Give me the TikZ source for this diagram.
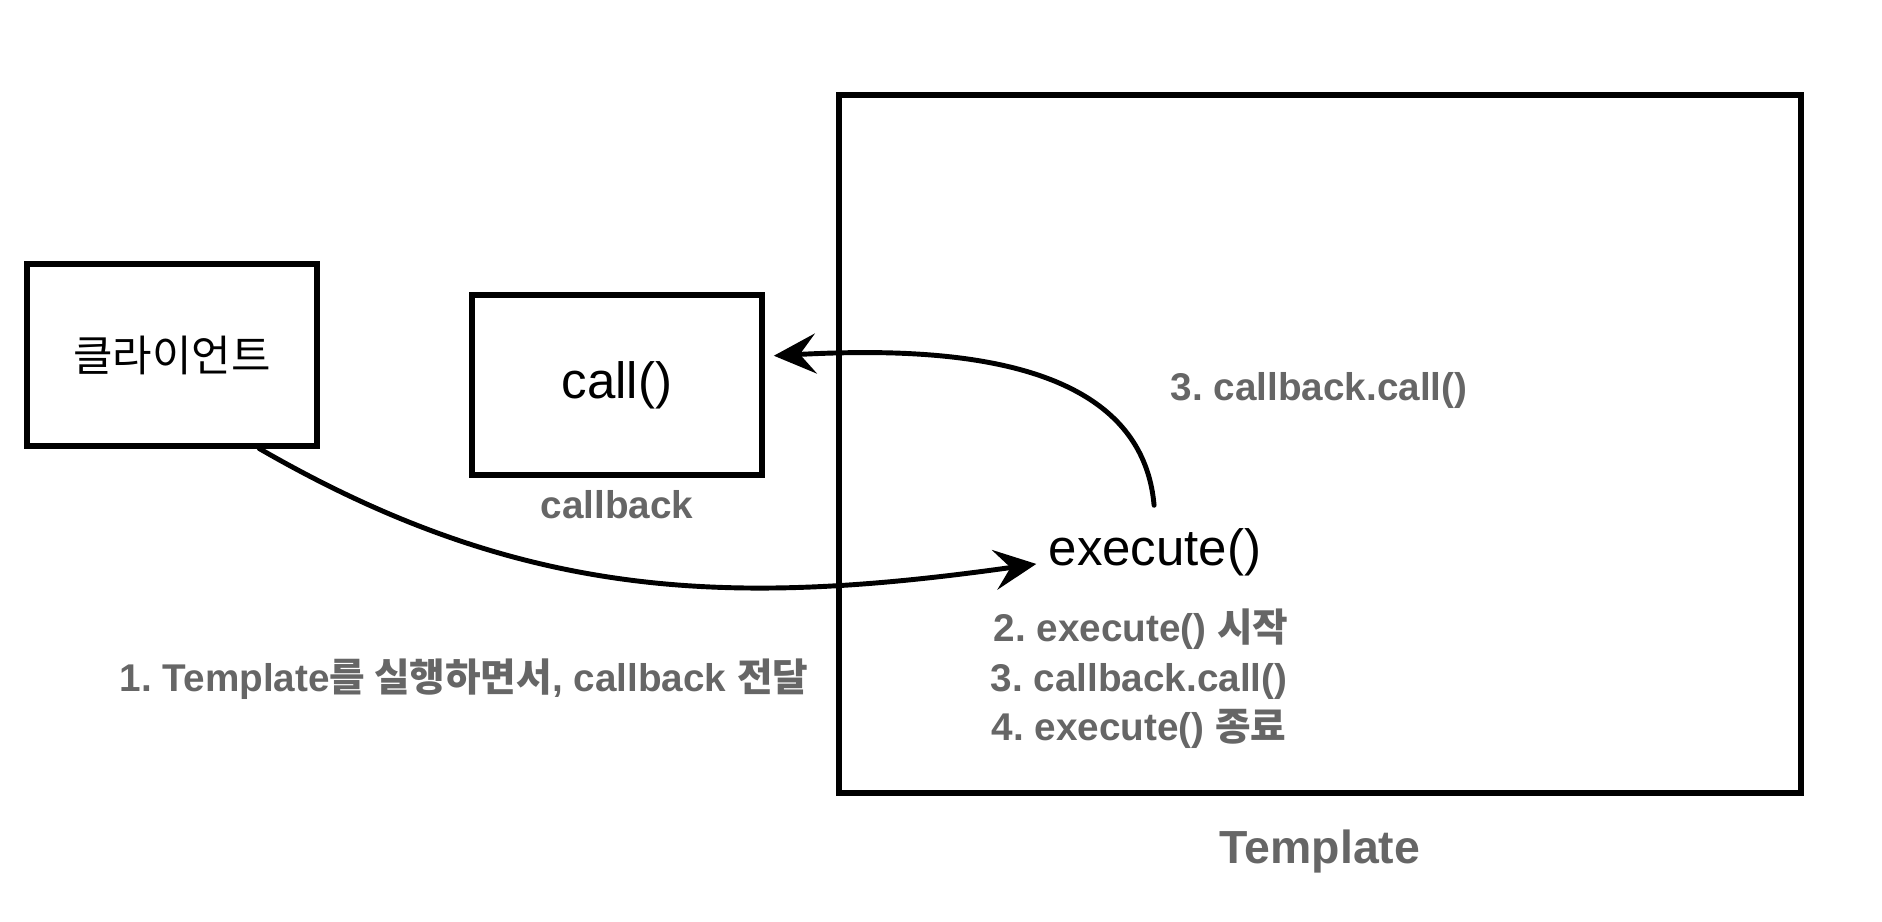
\documentclass[tikz,border=0pt]{standalone}
\usepackage{fontspec}
\setmainfont{Liberation Sans}
\newfontfamily\kr{Noto Sans CJK KR}
\usetikzlibrary{arrows.meta}
\definecolor{notegray}{HTML}{666666}
\frenchspacing

\begin{document}
\begin{tikzpicture}[
  x=0.01cm, y=0.01cm,
  box/.style={
      rectangle,
      draw,
      line width=1.7pt,
      inner sep=0pt,
      text centered,
      fill=white
  },
  bigtext/.style={
      font=\fontsize{14.5}{17}\selectfont
  },
  graytext/.style={
      text=notegray,
      inner sep=0pt,
      font=\fontsize{11}{13}\selectfont\bfseries
  },
  arrow/.style={
      -{Stealth[length=0.42cm,width=0.4cm,inset=0.16cm]},
      line width=1.4pt,
      line cap=round
  }
]

\useasboundingbox (0,0) rectangle (1882,922);

% ==================================================
% Client
% ==================================================

\node[box,
      minimum width=2.9cm,
      minimum height=1.81cm]
      (client) at (172,567)
      {\kr\fontsize{12.2}{14}\selectfont 클라이언트};

% ==================================================
% Callback
% ==================================================

\node[box, bigtext,
      minimum width=2.9cm,
      minimum height=1.8cm]
      (callback) at (617,537)
      {call()};

\node[graytext] (cbLabel) at (617,417)
      {callback};

% ==================================================
% Template
% ==================================================

\node[box,
      minimum width=9.61cm,
      minimum height=6.98cm]
      (template) at (1320,478)
      {};

\node[graytext,
      font=\fontsize{13.2}{15}\selectfont\bfseries]
      (tplLabel) at (1320,70)
      {Template};

\node[bigtext] (execute) at (1155,370)
      {execute()};

\node[graytext] (callNote) at (1319,531)
      {3. callback.call()};

% ==================================================
% Steps
% ==================================================

\node[graytext, anchor=west] (stepStart) at (993,293)
      {2. execute() {\kr 시작}};

\node[graytext, anchor=west] (stepCall) at (990,240)
      {3. callback.call()};

\node[graytext, anchor=west] (stepEnd) at (991,193)
      {4. execute() {\kr 종료}};

\node[graytext] (passNote) at (464,243)
      {1. Template{\kr 를 실행하면서}, callback {\kr 전달}};

% ==================================================
% Flow
% ==================================================

\draw[arrow]
      (client.-47.5)
      to[out=-30, in=188]
      ([yshift=-3.4pt]execute.west);

\draw[arrow, shorten <=3pt, shorten >=2.5pt]
      (execute.north)
      to[out=95, in=3]
      (callback.11);

\end{tikzpicture}
\end{document}
